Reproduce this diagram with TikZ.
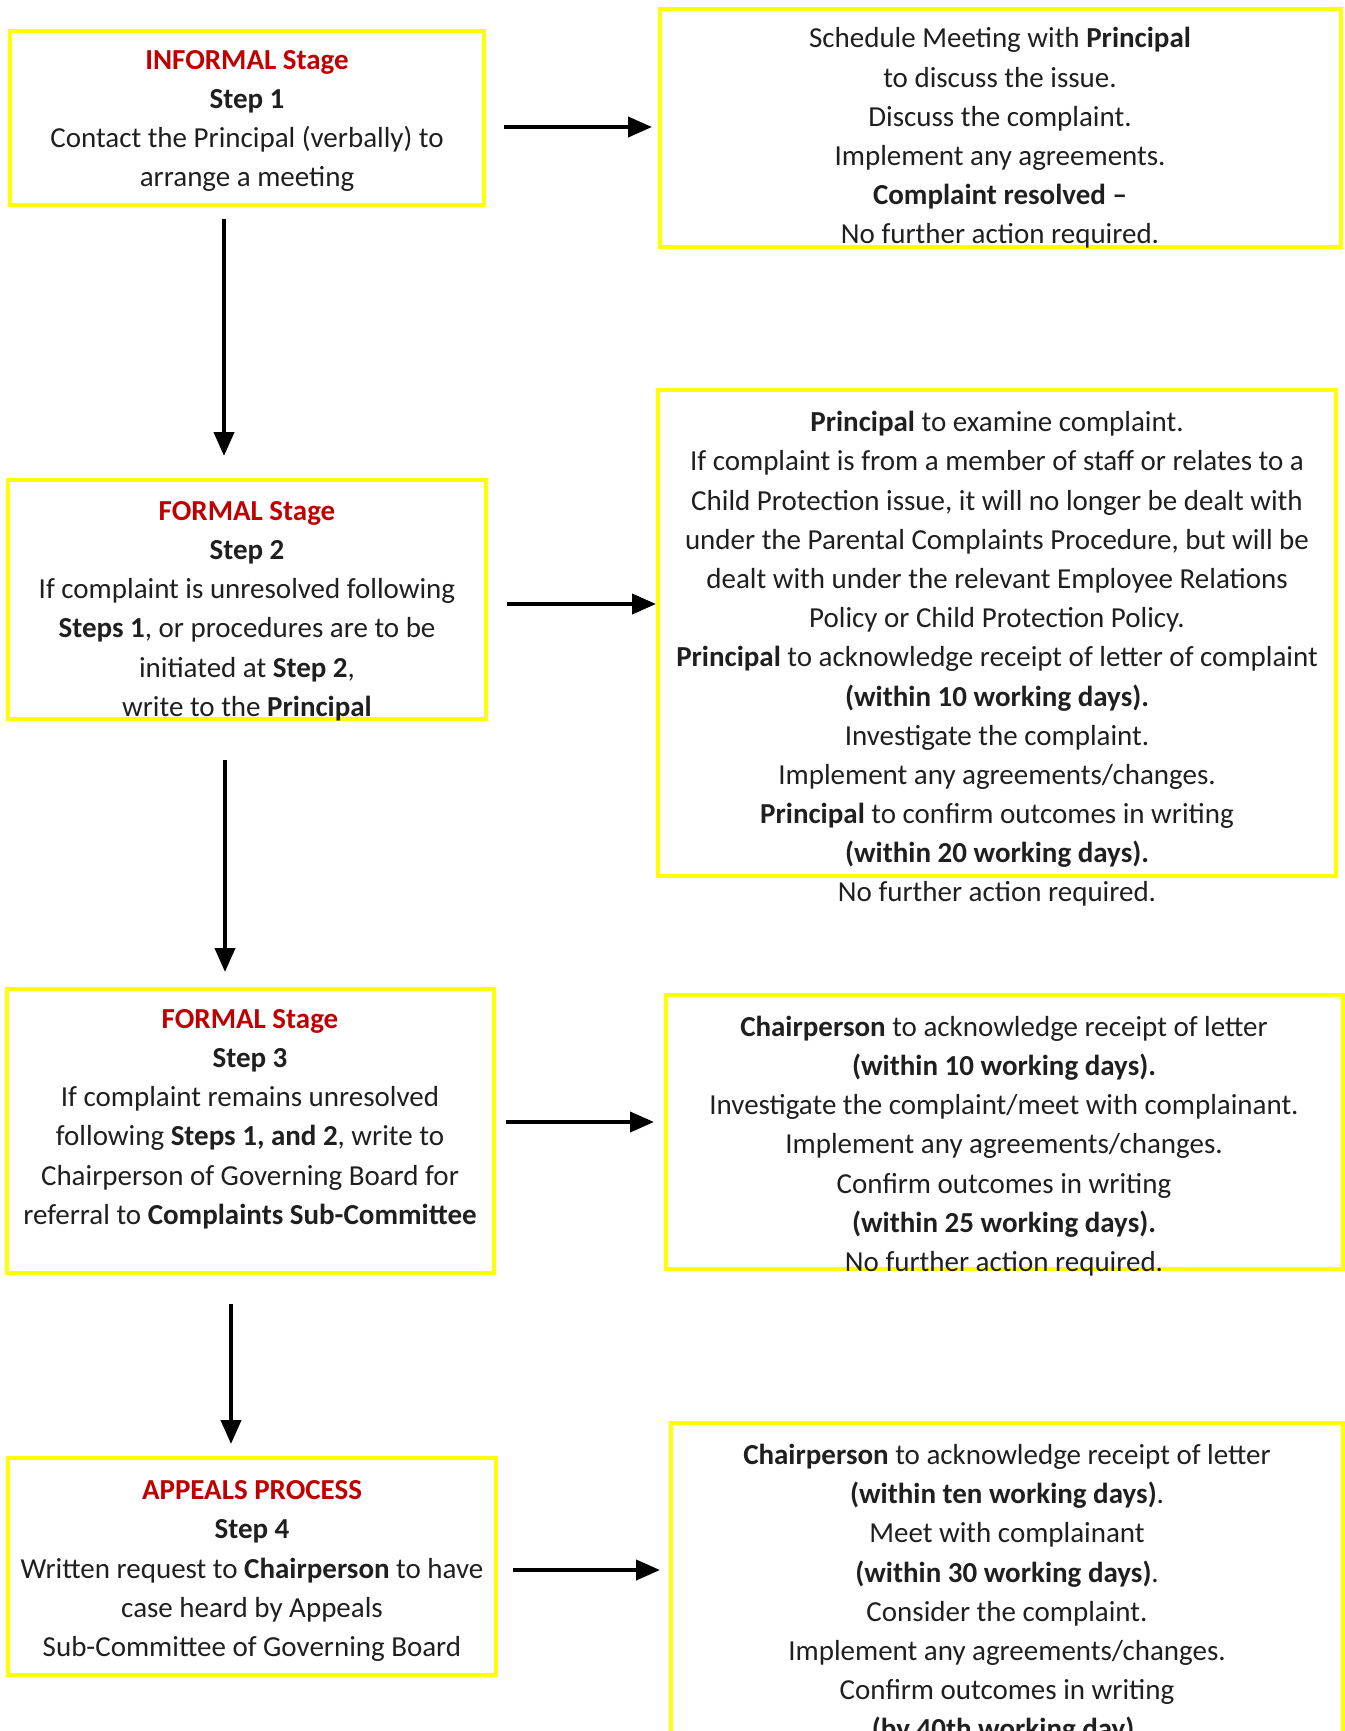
\documentclass[tikz,border=0pt]{standalone}
\usepackage{fontspec}
\setmainfont{Carlito}
\usetikzlibrary{arrows.meta,fit}
\definecolor{stagered}{RGB}{192,0,0}
\definecolor{boxyellow}{RGB}{255,255,0}
\tikzset{
  stagebox/.style={draw=boxyellow,line width=0.08cm,inner sep=0pt,outer sep=0pt},
  txt/.style={align=center,inner sep=0pt,text=black!88},
  arr/.style={-{Triangle[length=0.48cm,width=0.4cm]},line width=0.08cm},
}
\newcommand{\stagehead}[1]{{\color{stagered}\bfseries #1}}

\begin{document}
\begin{tikzpicture}[x=0.02cm,y=-0.02cm,font=\fontsize{16.5}{22.3}\selectfont]
\useasboundingbox (0,0) rectangle (1345,1731);
\node[stagebox,fit={(10,31) (484,205)}] (s1) {};
\node[stagebox,fit={(660,9) (1341,247)}] (r1) {};
\node[stagebox,fit={(8,480) (486,719)}] (s2) {};
\node[stagebox,fit={(658,390) (1336,876)}] (r2) {};
\node[stagebox,fit={(7,989) (494,1273)}] (s3) {};
\node[stagebox,fit={(666,995) (1343,1269)}] (r3) {};
\node[stagebox,fit={(8,1458) (496,1675)}] (s4) {};
\node[stagebox,fit={(671,1423) (1343,1800)}] (r4) {};

\node[txt] (t1) at (247,121) {\stagehead{INFORMAL Stage}\\ \textbf{Step 1}\\
  Contact the Principal (verbally) to\\ arrange a meeting};
\node[txt] (tr1) at (1000,138) {Schedule Meeting with \textbf{Principal}\\ to discuss the issue.\\
  Discuss the complaint.\\ Implement any agreements.\\ \textbf{Complaint resolved –}\\
  No further action required.};
\node[txt] (t2) at (247,611) {\stagehead{FORMAL Stage}\\ \textbf{Step 2}\\
  If complaint is unresolved following\\ \textbf{Steps 1}, or procedures are to be\\
  initiated at \textbf{Step 2},\\ write to the \textbf{Principal}};
\node[txt] (tr2) at (997,659) {\textbf{Principal} to examine complaint.\\
  If complaint is from a member of staff or relates to a\\
  Child Protection issue, it will no longer be dealt with\\
  under the Parental Complaints Procedure, but will be\\
  dealt with under the relevant Employee Relations\\
  Policy or Child Protection Policy.\\
  \textbf{Principal} to acknowledge receipt of letter of complaint\\
  \textbf{(within 10 working days).}\\ Investigate the complaint.\\
  Implement any agreements/changes.\\ \textbf{Principal} to confirm outcomes in writing\\
  \textbf{(within 20 working days).}\\ No further action required.};
\node[txt] (t3) at (250,1119) {\stagehead{FORMAL Stage}\\ \textbf{Step 3}\\
  If complaint remains unresolved\\ following \textbf{Steps 1, and 2}, write to\\
  Chairperson of Governing Board for\\ referral to \textbf{Complaints Sub-Committee}};
\node[txt] (tr3) at (1004,1146) {\textbf{Chairperson} to acknowledge receipt of letter\\
  \textbf{(within 10 working days).}\\ Investigate the complaint/meet with complainant.\\
  Implement any agreements/changes.\\ Confirm outcomes in writing\\
  \textbf{(within 25 working days).}\\ No further action required.};
\node[txt] (t4) at (252,1571) {\stagehead{APPEALS PROCESS}\\ \textbf{Step 4}\\
  Written request to \textbf{Chairperson} to have\\ case heard by Appeals\\
  Sub-Committee of Governing Board};
\node[txt] (tr4) at (1007,1594) {\textbf{Chairperson} to acknowledge receipt of letter\\
  \textbf{(within ten working days)}.\\ Meet with complainant\\
  \textbf{(within 30 working days)}.\\ Consider the complaint.\\
  Implement any agreements/changes.\\ Confirm outcomes in writing\\
  \textbf{(by 40th working day).}};

\draw[arr,shorten <=0.4cm,shorten >=0.16cm] (s1.east |- 0,127) -- (r1.west |- 0,127);
\draw[arr,shorten <=0.42cm,shorten >=0.04cm] (s2.east |- 0,604) -- (r2.west |- 0,604);
\draw[arr,shorten <=0.24cm,shorten >=0.24cm] (s3.east |- 0,1122) -- (r3.west |- 0,1122);
\draw[arr,shorten <=0.34cm,shorten >=0.22cm] (s4.east |- 0,1570) -- (r4.west |- 0,1570);
\draw[arr,shorten <=0.28cm,shorten >=0.48cm] (s1.south -| 224,0) -- (s2.north -| 224,0);
\draw[arr,shorten <=0.82cm,shorten >=0.34cm] (s2.south -| 225,0) -- (s3.north -| 225,0);
\draw[arr,shorten <=0.62cm,shorten >=0.28cm] (s3.south -| 231,0) -- (s4.north -| 231,0);
\end{tikzpicture}
\end{document}
